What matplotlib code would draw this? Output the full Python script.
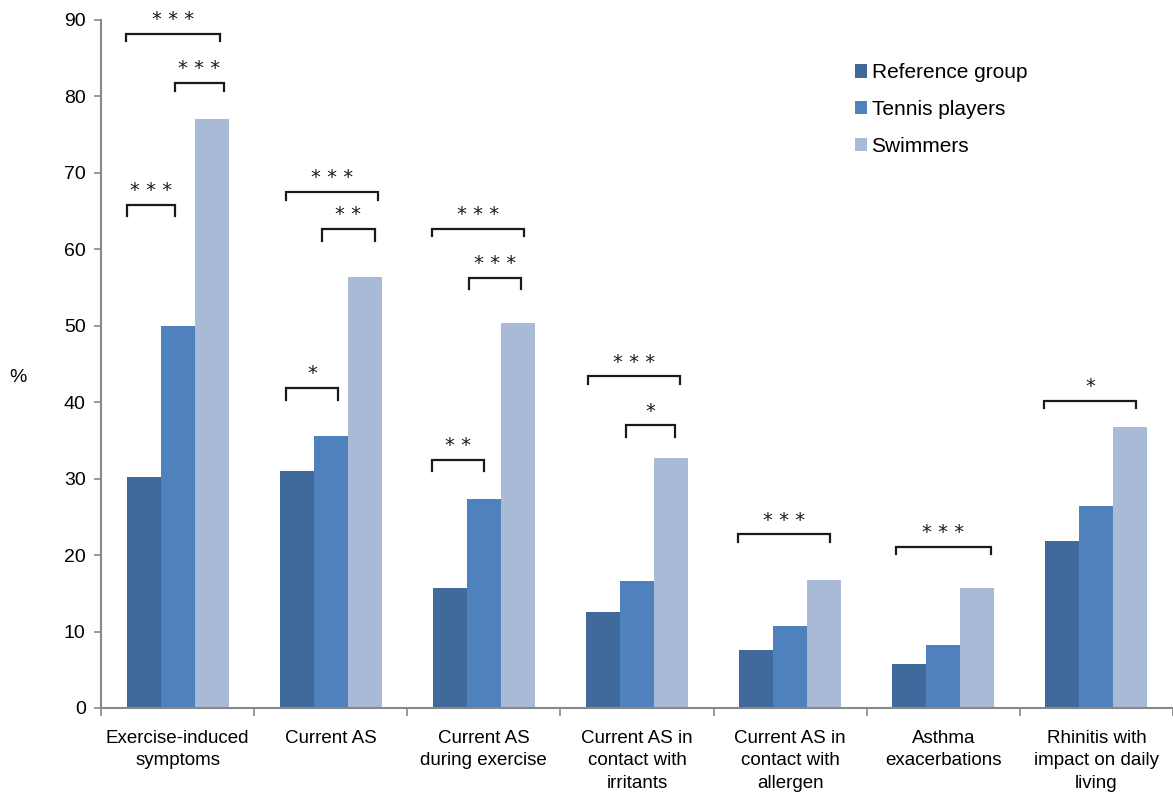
import numpy as np
import matplotlib; matplotlib.use('Agg')
import matplotlib.pyplot as plt

plt.rcParams.update({"font.family": ["Liberation Sans", "DejaVu Sans"], "font.size": 13.5})

categories = ["Exercise-induced\nsymptoms", "Current AS", "Current AS\nduring exercise",
              "Current AS in\ncontact with\nirritants", "Current AS in\ncontact with\nallergen",
              "Asthma\nexacerbations", "Rhinitis with\nimpact on daily\nliving"]
series = ["Reference group", "Tennis players", "Swimmers"]
reference = [30.2, 31.0, 15.7, 12.6, 7.6, 5.8, 21.8]
tennis = [50.0, 35.6, 27.3, 16.6, 10.7, 8.2, 26.4]
swimmers = [77.1, 56.4, 50.4, 32.7, 16.7, 15.7, 36.8]
colors = ["#3F6A9B", "#4F81BD", "#A9BAD6"]

# significance brackets: (category, x0 offset, x1 offset, y level, drop, label)
brackets = [
    (0, -0.33, -0.02, 65.8, 1.4, "***"),
    (0, -0.34, 0.28, 88.2, 1.0, "***"),
    (0, -0.02, 0.30, 81.8, 1.1, "***"),
    (1, -0.29, 0.05, 41.9, 1.6, "*"),
    (1, -0.29, 0.31, 67.5, 1.0, "***"),
    (1, -0.06, 0.29, 62.7, 1.6, "**"),
    (2, -0.34, 0.00, 32.5, 1.5, "**"),
    (2, -0.34, 0.26, 62.7, 1.0, "***"),
    (2, -0.10, 0.24, 56.3, 1.5, "***"),
    (3, -0.32, 0.28, 43.4, 1.0, "***"),
    (3, -0.07, 0.25, 37.0, 1.5, "*"),
    (4, -0.34, 0.26, 22.7, 1.0, "***"),
    (5, -0.31, 0.31, 21.1, 1.0, "***"),
    (6, -0.34, 0.26, 40.2, 1.0, "*"),
]

fig = plt.figure(figsize=(11.73, 7.92), dpi=100)
ax = fig.add_axes([101/1173, 1-708/792, 1072/1173, 688/792])

x = np.arange(len(categories))
w = 0.222
for k, (vals, col, name) in enumerate(zip([reference, tennis, swimmers], colors, series)):
    ax.bar(x + (k-1)*w, vals, width=w, color=col, label=name, linewidth=0)

for c, a, b, y, d, lab in brackets:
    ax.plot([c+a, c+a, c+b, c+b], [y-d, y, y, y-d], color="#1a1a1a", lw=1.6,
            solid_joinstyle="miter", clip_on=False)
    ax.text(c+(a+b)/2, y+0.6, " ".join(lab), ha="center", va="bottom", fontsize=14,
            family="DejaVu Sans", color="#1a1a1a")

ax.set_xlim(-0.5, len(categories)-0.5)
ax.set_ylim(0, 90)
ax.set_yticks(range(0, 91, 10))
ax.set_xticks(x)
ax.set_xticklabels(categories, linespacing=1.4)
ax.set_xticks(np.arange(-0.5, len(categories)), minor=True)
ax.tick_params(axis="x", which="major", length=0, pad=16)
ax.tick_params(axis="x", which="minor", length=6, color="#888888", width=1.2)
ax.tick_params(axis="y", length=5, color="#888888", width=1.2, pad=6, labelsize=14)
for s in ["top", "right"]:
    ax.spines[s].set_visible(False)
for s in ["left", "bottom"]:
    ax.spines[s].set_color("#888888")
    ax.spines[s].set_linewidth(1.5)

fig.text(18/1173, 1-377/792, "%", ha="center", va="center", fontsize=14)

ax.legend(loc="upper left", bbox_to_anchor=(0.6935, 0.952), frameon=False, fontsize=15,
          handlelength=0.6, handleheight=0.6, handletextpad=0.2, labelspacing=0.85, borderpad=0)

fig.savefig("out.png", dpi=100)
